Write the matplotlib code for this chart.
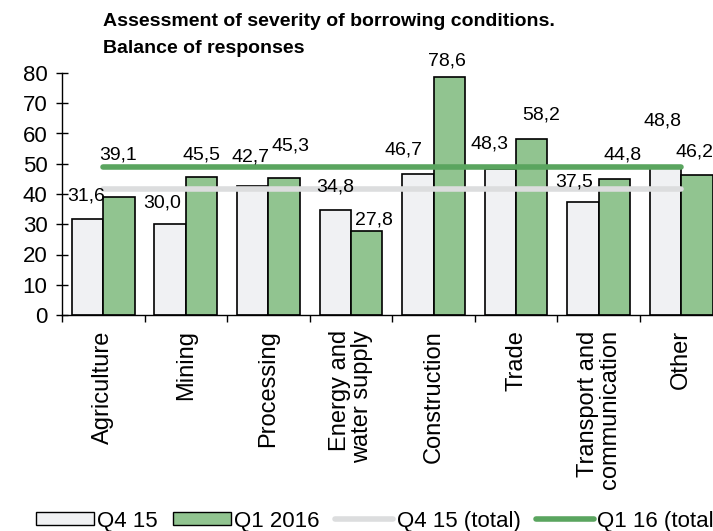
import matplotlib
matplotlib.use("Agg")
import matplotlib.pyplot as plt
from matplotlib.patches import Patch
from matplotlib.lines import Line2D
import numpy as np

plt.rcParams['font.family'] = ['Liberation Sans', 'DejaVu Sans']

categories = ["Agriculture", "Mining", "Processing", "Energy and\nwater supply",
              "Construction", "Trade", "Transport and\ncommunication", "Other"]
q4_15 = [31.6, 30.0, 42.7, 34.8, 46.7, 48.3, 37.5, 48.8]
q1_16 = [39.1, 45.5, 45.3, 27.8, 78.6, 58.2, 44.8, 46.2]
q4_15_total = 41.6
q1_16_total = 48.9
title_lines = ["Assessment of severity of borrowing conditions.", "Balance of responses"]

# label nudges in pixels (dx, dy from bar top), as placed in the original
q4_offsets = [(-1, 23), (-8, 21), (-2, 29), (0, 23), (-14, 24), (-11, 25), (-9, 20), (-3, 46)]
q1_offsets = [(-1, 42), (0, 22), (6, 32), (7, 11), (-2, 16), (9, 24), (8, 24), (-2, 23)]

LIGHT = "#f0f1f3"
GREEN = "#91c490"
LINE_GREEN = "#5aa55f"
LINE_GRAY = "#dcddde"

fig = plt.figure(figsize=(7.13, 5.31), dpi=100)
ax = fig.add_axes([62 / 713, 216 / 531, 660.5 / 713, 242 / 531])

x = np.arange(len(categories))
w = 0.38
ax.bar(x - w / 2, q4_15, w, color=LIGHT, edgecolor="black", linewidth=1.2, zorder=2)
ax.bar(x + w / 2, q1_16, w, color=GREEN, edgecolor="black", linewidth=1.2, zorder=2)

ax.plot(x, [q4_15_total] * len(x), color=LINE_GRAY, lw=4, solid_capstyle="round", zorder=3)
ax.plot(x, [q1_16_total] * len(x), color=LINE_GREEN, lw=4, solid_capstyle="round", zorder=3)

def fmt(v):
    return f"{v:.1f}".replace(".", ",")

for i in range(len(x)):
    ax.annotate(fmt(q4_15[i]), xy=(x[i] - w / 2, q4_15[i]), xytext=q4_offsets[i],
                textcoords="offset pixels", ha="center", va="center", fontsize=14, zorder=4)
    ax.annotate(fmt(q1_16[i]), xy=(x[i] + w / 2, q1_16[i]), xytext=q1_offsets[i],
                textcoords="offset pixels", ha="center", va="center", fontsize=14, zorder=4)

ax.set_xlim(-0.5, len(x) - 0.5)
ax.set_ylim(0, 80)
ax.set_yticks(range(0, 81, 10))
ax.tick_params(axis="y", direction="inout", length=9, width=1, labelsize=16, pad=6)
ax.set_xticks(x)
ax.set_xticklabels(categories, rotation=90, fontsize=17, ha="center", va="top",
                   multialignment="right", linespacing=1.0)
ax.tick_params(axis="x", length=0, pad=11)
ax.set_xticks(np.arange(-0.5, len(x), 1), minor=True)
ax.tick_params(axis="x", which="minor", direction="out", length=5, width=1)

for s in ["top", "right"]:
    ax.spines[s].set_visible(False)
ax.spines["left"].set_linewidth(1)
ax.spines["bottom"].set_linewidth(1)

# title as two separate lines
for k, line in enumerate(title_lines):
    fig.text(103 / 713, 1 - (13 + 27 * k) / 531, line,
             fontsize=14, fontweight="bold", ha="left", va="top")

handles = [
    Patch(facecolor=LIGHT, edgecolor="black", linewidth=1),
    Patch(facecolor=GREEN, edgecolor="black", linewidth=1),
    Line2D([], [], color=LINE_GRAY, lw=4, solid_capstyle="round"),
    Line2D([], [], color=LINE_GREEN, lw=4, solid_capstyle="round"),
]
labels = ["Q4 15", "Q1 2016", "Q4 15 (total)", "Q1 16 (total)"]
fig.legend(handles, labels, loc="center left", bbox_to_anchor=(36 / 713, 1 - 521 / 531),
           ncol=4, frameon=False, fontsize=16, handlelength=2.6, handleheight=0.5,
           handletextpad=0.15, columnspacing=0.7, borderpad=0, borderaxespad=0)

fig.savefig("out.png", dpi=100)
